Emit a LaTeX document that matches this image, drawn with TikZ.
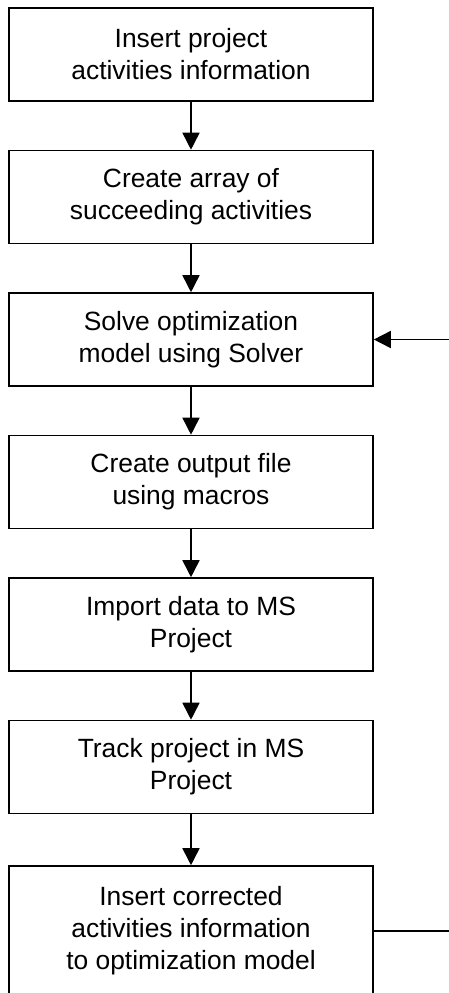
\documentclass[tikz,border=0pt]{standalone}
\usepackage{fontspec}
\setmainfont{Liberation Sans}
\usetikzlibrary{arrows.meta}
\begin{document}
\begin{tikzpicture}[x=0.5pt,y=-0.5pt,>={Triangle[width=8.5pt,length=8.5pt]},
	box/.style={draw,line width=0.8pt,minimum width=182pt,minimum height=46.5pt,align=center,font=\fontsize{13.2}{16}\selectfont,inner sep=0pt},
	flow/.style={->,line width=0.8pt}]
		\useasboundingbox (0,0) rectangle (449,993);
		\clip (0,0) rectangle (449,993);
		\node[box] (ins) at (191,54.5) {Insert project\\activities information};
		\node[box] (arr) at (191,197) {Create array of\\succeeding activities};
		\node[box] (sol) at (191,339.5) {Solve optimization\\model using Solver};
		\node[box] (out) at (191,482) {Create output file\\using macros};
		\node[box] (imp) at (191,624.5) {Import data to MS\\Project};
		\node[box] (trk) at (191,767) {Track project in MS\\Project};
		\node[box,minimum height=65pt] (cor) at (191,931) {Insert corrected\\activities information\\to optimization model};
		\draw[flow] (ins)--(arr);
		\draw[flow] (arr)--(sol);
		\draw[flow] (sol)--(out);
		\draw[flow] (out)--(imp);
		\draw[flow] (imp)--(trk);
		\draw[flow] (trk)--(cor);
		%feedback loop, runs past the right edge
		\coordinate (back) at (480,931);
		\draw[flow] (cor.east)--(back)|-(sol.east);
	\end{tikzpicture}
\end{document}
